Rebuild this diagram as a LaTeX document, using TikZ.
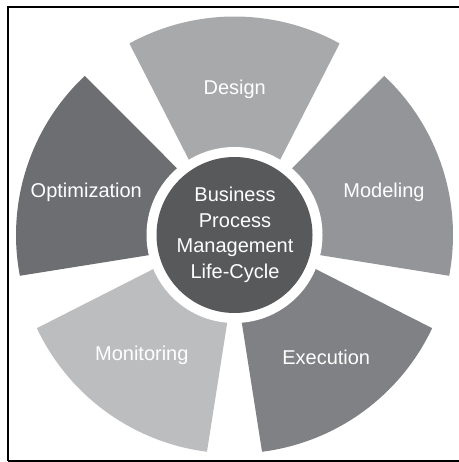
\documentclass[tikz,border=0pt]{standalone}
\usepackage{fontspec}
\setmainfont{Liberation Sans}
\usetikzlibrary{calc}
\definecolor{cDesign}{RGB}{168,169,171}
\definecolor{cModeling}{RGB}{148,149,152}
\definecolor{cExecution}{RGB}{128,129,132}
\definecolor{cMonitoring}{RGB}{188,189,191}
\definecolor{cOptimization}{RGB}{109,110,113}
\definecolor{cCenter}{RGB}{88,89,91}
\begin{document}
\begin{tikzpicture}[x=1pt,y=1pt,
  lbl/.style={text=white,font=\fontsize{20}{24}\selectfont,anchor=base,inner sep=0pt},
  frame/.style={draw=black,line width=1.3pt}]
\useasboundingbox (0,0) rectangle (458,-462);
\coordinate (C) at (234.5,-235);
\foreach \c/\col in {90/cDesign,18/cModeling,-54/cExecution,-126/cMonitoring,162/cOptimization}{
  \fill[\col] ($(C)+(\c+180:14)$) -- ($(C)+(\c-28.76:218.5)$)
     arc[start angle=\c-28.76, end angle=\c+28.76, radius=218.5] -- cycle;
}
\fill[white] (C) circle[radius=88];
\fill[cCenter] (C) circle[radius=78];
% frame
\coordinate (tl) at (8,-7);
\coordinate (tr) at (460,-7);
\coordinate (bl) at (8,-461);
\coordinate (br) at (460,-461);
\draw[frame] (tr) -- (tl) -- (bl);
\draw[frame,line width=2.4pt] (bl) -- (br);
% labels
\node[lbl] (design) at (234.7,-94.5) {Design};
\node[lbl] (modeling) at (384,-197.7) {Modeling};
\node[lbl] (optimization) at (86.3,-197.7) {Optimization};
\node[lbl] (monitoring) at (141.8,-360) {Monitoring};
\node[lbl] (execution) at (326.2,-364) {Execution};
\node[lbl] (bpm1) at (235,-201.7) {Business};
\node[lbl] (bpm2) at (235,-227.3) {Process};
\node[lbl] (bpm3) at (235,-252.7) {Management};
\node[lbl] (bpm4) at (235,-278.3) {Life-Cycle};
\end{tikzpicture}
\end{document}
